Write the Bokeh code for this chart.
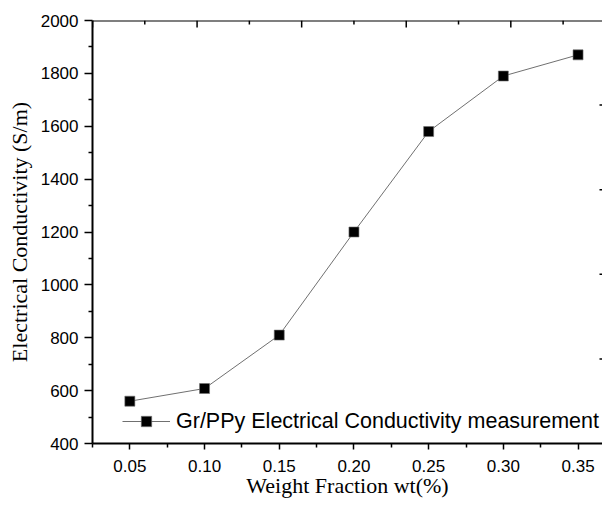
from bokeh.plotting import figure
from bokeh.embed import file_html
from bokeh.resources import INLINE
from bokeh.models import FixedTicker, Range1d, Span

# ---- data ----
weight_fraction = [0.05, 0.10, 0.15, 0.20, 0.25, 0.30, 0.35]
conductivity = [560, 608, 810, 1200, 1580, 1790, 1870]
series_label = "Gr/PPy Electrical Conductivity measurement"

x_ticks = [0.05, 0.10, 0.15, 0.20, 0.25, 0.30, 0.35]
x_tick_labels = ["0.05", "0.10", "0.15", "0.20", "0.25", "0.30", "0.35"]
x_minor_ticks = [0.025, 0.075, 0.125, 0.175, 0.225, 0.275, 0.325, 0.375]
y_ticks = [400, 600, 800, 1000, 1200, 1400, 1600, 1800, 2000]
y_minor_ticks = [500, 700, 900, 1100, 1300, 1500, 1700, 1900]
top_ticks = [0.025, 0.095, 0.165, 0.235, 0.305, 0.375]
top_minor_ticks = [0.06, 0.13, 0.20, 0.27, 0.34]
right_ticks = [720, 1040, 1360, 1680]

# ---- layout ----
W, H = 602, 500
LEFT, TOP, BOTTOM = 92, 20, 57
FRAME_W = W - LEFT
FRAME_H = H - TOP - BOTTOM
X_START = 0.025
PX_PER_X = 1494.0
X_END = X_START + FRAME_W / PX_PER_X
Y_START, Y_END = 400, 2000
Y_PER_PX = (Y_END - Y_START) / FRAME_H
X_PER_PX = 1.0 / PX_PER_X

TICK_FONT = "Liberation Sans"
LABEL_FONT = "Liberation Serif"

p = figure(width=W, height=H, output_backend="svg", toolbar_location=None,
           x_range=Range1d(X_START, X_END), y_range=Range1d(Y_START, Y_END),
           min_border_left=LEFT, min_border_right=0, min_border_top=TOP,
           min_border_bottom=BOTTOM,
           x_axis_label="Weight Fraction wt(%)", y_axis_label="Electrical Conductivity (S/m)")
p.outline_line_color = None
p.xgrid.visible = False
p.ygrid.visible = False
p.background_fill_color = "white"
p.border_fill_color = "white"

# bottom axis
xa = p.xaxis[0]
xa.ticker = FixedTicker(ticks=x_ticks, minor_ticks=x_minor_ticks)
xa.major_label_overrides = {t: s for t, s in zip(x_ticks, x_tick_labels)}
xa.axis_line_width = 2
xa.major_tick_line_width = 1.5
xa.minor_tick_line_width = 1.5
xa.major_tick_out = 6
xa.major_tick_in = 0
xa.minor_tick_out = 4
xa.minor_tick_in = 0
xa.major_label_standoff = 10
xa.major_label_text_font = TICK_FONT
xa.major_label_text_font_size = "17px"
xa.major_label_text_color = "black"
xa.axis_label_text_font = LABEL_FONT
xa.axis_label_text_font_size = "22px"
xa.axis_label_text_font_style = "normal"
xa.axis_label_text_color = "black"
xa.axis_label_standoff = -2

# left axis
ya = p.yaxis[0]
ya.ticker = FixedTicker(ticks=y_ticks, minor_ticks=y_minor_ticks)
ya.axis_line_width = 2
ya.major_tick_line_width = 1.5
ya.minor_tick_line_width = 1.5
ya.major_tick_out = 8
ya.major_tick_in = 0
ya.minor_tick_out = 4
ya.minor_tick_in = 0
ya.major_label_standoff = 6
ya.major_label_text_font = TICK_FONT
ya.major_label_text_font_size = "17px"
ya.major_label_text_color = "black"
ya.axis_label_text_font = LABEL_FONT
ya.axis_label_text_font_size = "22px"
ya.axis_label_text_font_style = "normal"
ya.axis_label_text_color = "black"
ya.axis_label_standoff = 6

# top border line with inward ticks, right-side tick stubs
p.add_layout(Span(location=Y_END, dimension="width", line_color="black", line_width=2))
p.segment(x0=top_ticks, x1=top_ticks, y0=[Y_END] * len(top_ticks),
          y1=[Y_END - 7 * Y_PER_PX] * len(top_ticks), line_color="black", line_width=1.5)
p.segment(x0=top_minor_ticks, x1=top_minor_ticks, y0=[Y_END] * len(top_minor_ticks),
          y1=[Y_END - 4 * Y_PER_PX] * len(top_minor_ticks), line_color="black", line_width=1.5)
p.segment(x0=[X_END] * len(right_ticks), x1=[X_END - 3 * X_PER_PX] * len(right_ticks),
          y0=right_ticks, y1=right_ticks, line_color="black", line_width=1.5)

# series
p.line(weight_fraction, conductivity, line_color="#707070", line_width=1,
       legend_label=series_label)
p.scatter(weight_fraction, conductivity, marker="square", size=10,
          fill_color="black", line_color="#707070", line_width=0.6,
          legend_label=series_label)

lg = p.legend[0]
lg.location = (30, 9)
lg.border_line_color = None
lg.background_fill_alpha = 0
lg.padding = 0
lg.margin = 0
lg.glyph_width = 48
lg.glyph_height = 26
lg.label_height = 26
lg.label_standoff = 6
lg.label_text_font = TICK_FONT
lg.label_text_font_size = "21.5px"
lg.label_text_color = "black"

open("out.html", "w").write(file_html(p, INLINE))
